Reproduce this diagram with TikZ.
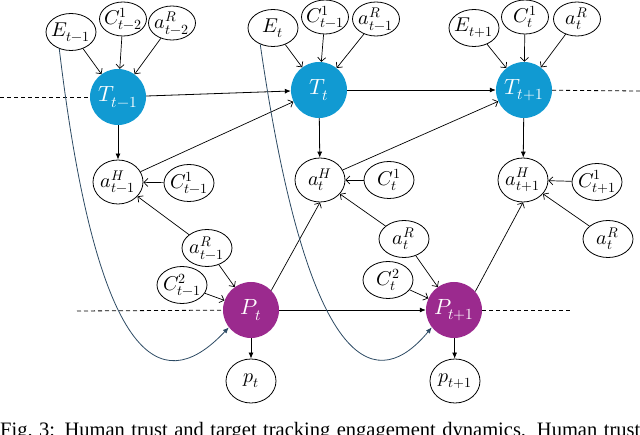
\documentclass[tikz,border=0pt]{standalone}
\usepackage{fontspec}
\usepackage{unicode-math}
\setmathfont{Latin Modern Math}
\newfontfamily\capfont{Liberation Serif}
\usetikzlibrary{arrows.meta,shapes.geometric}
\definecolor{tblue}{RGB}{17,154,210}
\definecolor{ppurple}{RGB}{155,42,142}
\definecolor{curvecol}{RGB}{44,74,99}
\tikzset{
  ev/.style={draw=black, line width=0.8pt, ellipse, minimum width=50pt, minimum height=37pt, inner xsep=-6pt, inner ysep=-5pt, font=\fontsize{20}{23}\selectfont},
  evs/.style={ev, minimum width=47pt, minimum height=34pt},
  evb/.style={ev, minimum height=44pt},
  tnode/.style={circle, fill=tblue, minimum size=56pt, inner sep=0pt, text=white, font=\fontsize{22}{25}\selectfont},
  pnode/.style={circle, fill=ppurple, minimum size=56pt, inner sep=0pt, text=white, font=\fontsize{22}{25}\selectfont},
  oarr/.style={line width=0.7pt, -{Straight Barb[length=4pt,width=8pt]}},
  farr/.style={line width=0.8pt, -{Latex[length=6pt,width=5pt]}},
  dline/.style={line width=0.8pt, dash pattern=on 4pt off 3pt},
  ecurve/.style={draw=curvecol, line width=0.8pt, -{Latex[length=6pt,width=5pt]}}
}
\begin{document}
\begin{tikzpicture}[x=1pt,y=-1pt]
\useasboundingbox (0,0) rectangle (640,435);
% T row
\node[tnode] (T1) at (118,97) {$T_{t-1}$};
\node[tnode] (T2) at (319,90) {$T_{t}$};
\node[tnode] (T3) at (524,90) {$T_{t+1}$};
% top parents
\node[ev] (E1) at (71,32) {$E_{t-1}$};
\node[evs] (C12) at (123,19) {$C^1_{t-2}$};
\node[evs] (aR2) at (172,23) {$a^R_{t-2}$};
\node[ev] (E2) at (273,28) {$E_{t}$};
\node[evs] (C11a) at (325,17) {$C^1_{t-1}$};
\node[evs] (aR1a) at (376,19) {$a^R_{t-1}$};
\node[ev] (E3) at (474,28) {$E_{t+1}$};
\node[evs] (C1ta) at (525,17) {$C^1_{t}$};
\node[evs] (aRta) at (577,19) {$a^R_{t}$};
% aH row
\node[evb] (aH1) at (118,182) {$a^H_{t-1}$};
\node[ev] (C11b) at (189,183) {$C^1_{t-1}$};
\node[evb] (aH2) at (320,180) {$a^H_{t}$};
\node[ev] (C1tb) at (389,180) {$C^1_{t}$};
\node[evb] (aH3) at (523,180) {$a^H_{t+1}$};
\node[ev] (C1t1) at (597,182) {$C^1_{t+1}$};
% P row
\node[ev] (aR1b) at (207,248) {$a^R_{t-1}$};
\node[ev] (C21) at (182,285) {$C^2_{t-1}$};
\node[pnode] (P1) at (251,310) {$P_{t}$};
\node[evb] (p1) at (251,381) {$p_{t}$};
\node[ev] (aRtb) at (404,239) {$a^R_{t}$};
\node[ev] (C2t) at (388,280) {$C^2_{t}$};
\node[pnode] (P2) at (454,310) {$P_{t+1}$};
\node[evb] (p2) at (455,381) {$p_{t+1}$};
\node[ev] (aRtc) at (608,239) {$a^R_{t}$};
% dashed lines
\coordinate (dT0) at (0,97);
\coordinate (dT9) at (640,91);
\coordinate (dP0) at (77,311);
\coordinate (dP9) at (570,310);
\draw[dline] (dT0) -- (T1);
\draw[dline] (T3) -- (dT9);
\draw[dline] (dP0) -- (P1);
\draw[dline] (P2) -- (dP9);
% top arrows
\draw[oarr] (E1) -- (T1);
\draw[oarr] (C12) -- (T1);
\draw[oarr] (aR2) -- (T1);
\draw[oarr] (E2) -- (T2);
\draw[oarr] (C11a) -- (T2);
\draw[oarr] (aR1a) -- (T2);
\draw[oarr] (E3) -- (T3);
\draw[oarr] (C1ta) -- (T3);
\draw[oarr] (aRta) -- (T3);
% horizontal
\draw[farr] (T1) -- (T2);
\draw[farr] (T2) -- (T3);
\draw[farr] (P1) -- (P2);
% down
\draw[farr] (T1) -- (aH1);
\draw[farr] (T2) -- (aH2);
\draw[farr] (T3) -- (aH3);
\draw[farr] (P1) -- (p1);
\draw[farr] (P2) -- (p2);
% aH to next T
\draw[oarr] (aH1) -- (T2);
\draw[oarr] (aH2) -- (T3);
% C1 to aH
\draw[oarr] (C11b) -- (aH1);
\draw[oarr] (C1tb) -- (aH2);
\draw[oarr] (C1t1) -- (aH3);
% aR to aH and P
\draw[oarr] (aR1b) -- (aH1);
\draw[oarr] (aR1b) -- (P1);
\draw[oarr] (C21) -- (P1);
\draw[oarr] (aRtb) -- (aH2);
\draw[oarr] (aRtb) -- (P2);
\draw[oarr] (C2t) -- (P2);
\draw[oarr] (aRtc) -- (aH3);
% P to aH
\draw[oarr] (P1.44) -- (aH2.south);
\draw[oarr] (P2.41) -- (aH3.south);
% E curves
\draw[ecurve] (E1.235) .. controls (100,390) and (170,390) .. (P1.218);
\draw[ecurve] (E2.232) .. controls (310,388) and (380,390) .. (P2.218);
% caption
\node[anchor=base west, inner sep=0pt] (cap) at (0,437) {\capfont\fontsize{20.5}{24}\selectfont\hbox to 640pt{Fig.~3: Human trust and target tracking engagement dynamics. Human trust}};
\end{tikzpicture}
\end{document}
